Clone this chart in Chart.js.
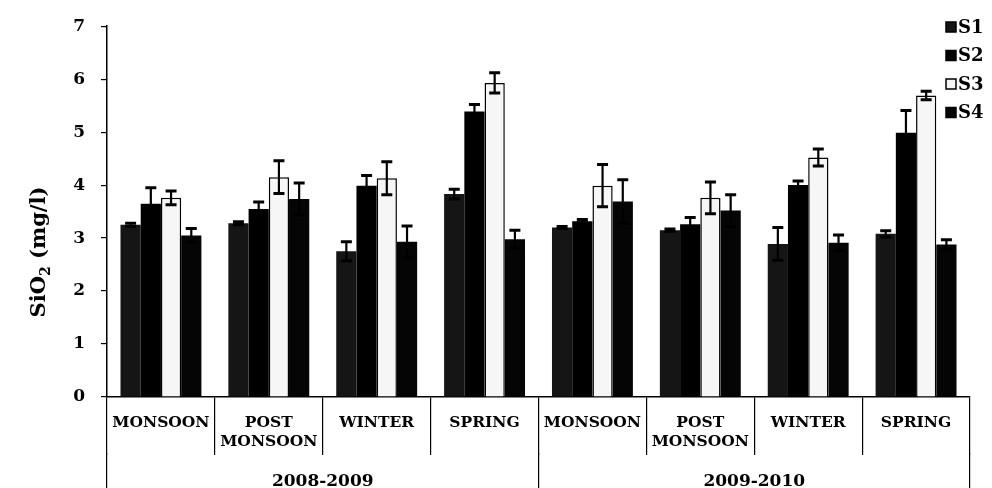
<!DOCTYPE html>
<html>
<head>
<meta charset="utf-8">
<script src="https://cdn.jsdelivr.net/npm/chart.js@4/dist/chart.umd.min.js"></script>
<style>
  html, body { margin: 0; padding: 0; background: #fff; }
  #wrap { width: 992px; height: 488px; position: relative; }
</style>
</head>
<body>
<div id="wrap"><canvas id="c" width="992" height="488"></canvas></div>
<script>
const seasons = [['MONSOON'], ['POST', 'MONSOON'], ['WINTER'], ['SPRING'], ['MONSOON'], ['POST', 'MONSOON'], ['WINTER'], ['SPRING']];
const years = ['2008-2009', '2009-2010'];
const seriesNames = ['S1', 'S2', 'S3', 'S4'];
const s1 = [3.25, 3.28, 2.75, 3.83, 3.20, 3.15, 2.89, 3.08];
const s2 = [3.65, 3.55, 3.99, 5.39, 3.32, 3.26, 4.00, 4.99];
const s3 = [3.76, 4.15, 4.13, 5.93, 3.99, 3.76, 4.52, 5.69];
const s4 = [3.05, 3.74, 2.93, 2.98, 3.69, 3.52, 2.91, 2.88];
const s1Err = [0.03, 0.03, 0.18, 0.09, 0.02, 0.02, 0.31, 0.06];
const s2Err = [0.30, 0.13, 0.19, 0.13, 0.03, 0.13, 0.08, 0.42];
const s3Err = [0.13, 0.31, 0.31, 0.19, 0.40, 0.30, 0.16, 0.08];
const s4Err = [0.13, 0.30, 0.30, 0.17, 0.41, 0.30, 0.15, 0.09];
const yTicks = [0, 1, 2, 3, 4, 5, 6, 7];
const yTitleParts = ['SiO', '2', ' (mg/l)'];

const FONT = "'DejaVu Serif', 'Liberation Serif', serif";
const fills = ['#151515', '#000000', '#f6f6f6', '#050505'];
const values = [s1, s2, s3, s4];
const errs = [s1Err, s2Err, s3Err, s4Err];

const datasets = seriesNames.map((n, i) => ({
  label: n,
  data: values[i],
  err: errs[i],
  backgroundColor: fills[i],
  borderColor: '#000',
  borderWidth: i === 2 ? 1.5 : 0,
  borderSkipped: 'bottom',
  categoryPercentage: 0.75,
  barPercentage: 1.0
}));

const errorBars = {
  id: 'errorBars',
  afterDatasetsDraw(chart) {
    const ctx = chart.ctx;
    const y = chart.scales.y;
    ctx.save();
    ctx.strokeStyle = '#000';
    chart.data.datasets.forEach((ds, di) => {
      const meta = chart.getDatasetMeta(di);
      meta.data.forEach((bar, i) => {
        const v = ds.data[i], e = ds.err[i];
        const top = y.getPixelForValue(v + e);
        const bot = y.getPixelForValue(v - e);
        const x = bar.x;
        ctx.lineWidth = 2.2;
        ctx.beginPath(); ctx.moveTo(x, top); ctx.lineTo(x, bot); ctx.stroke();
        ctx.lineWidth = 3;
        ctx.beginPath();
        ctx.moveTo(x - 5.5, top); ctx.lineTo(x + 5.5, top);
        ctx.moveTo(x - 5.5, bot); ctx.lineTo(x + 5.5, bot);
        ctx.stroke();
      });
    });
    ctx.restore();
  }
};

const sideLegend = {
  id: 'sideLegend',
  afterDraw(chart) {
    const ctx = chart.ctx;
    ctx.save();
    ctx.font = 'bold 18px ' + FONT;
    ctx.textBaseline = 'middle';
    ctx.textAlign = 'left';
    chart.data.datasets.forEach((ds, i) => {
      const cy = 27 + i * 28.5;
      ctx.fillStyle = ds.backgroundColor;
      ctx.fillRect(946, cy - 5, 10, 10);
      ctx.lineWidth = 1.5;
      ctx.strokeStyle = '#000';
      ctx.strokeRect(946, cy - 5, 10, 10);
      ctx.fillStyle = '#000';
      ctx.fillText(ds.label, 958, cy + 1);
    });
    ctx.restore();
  }
};

const yTitle = {
  id: 'yTitle',
  afterDraw(chart) {
    const ctx = chart.ctx;
    ctx.save();
    ctx.translate(40, 252);
    ctx.rotate(-Math.PI / 2);
    ctx.fillStyle = '#000';
    ctx.textBaseline = 'middle';
    ctx.textAlign = 'left';
    const big = 'bold 21px ' + FONT, small = 'bold 14px ' + FONT;
    ctx.font = big; const w0 = ctx.measureText(yTitleParts[0]).width;
    const w2 = ctx.measureText(yTitleParts[2]).width;
    ctx.font = small; const w1 = ctx.measureText(yTitleParts[1]).width;
    let x = -(w0 + w1 + w2) / 2;
    ctx.font = big; ctx.fillText(yTitleParts[0], x, 0); x += w0;
    ctx.font = small; ctx.fillText(yTitleParts[1], x, 6); x += w1;
    ctx.font = big; ctx.fillText(yTitleParts[2], x, 0);
    ctx.restore();
  }
};

new Chart(document.getElementById('c'), {
  type: 'bar',
  data: { labels: seasons, datasets },
  plugins: [errorBars, sideLegend, yTitle],
  options: {
    responsive: false,
    animation: false,
    devicePixelRatio: 1,
    layout: { padding: { top: 24, right: 22, left: 0, bottom: 0 } },
    plugins: { legend: { display: false }, tooltip: { enabled: false } },
    scales: {
      x: {
        position: 'bottom',
        offset: true,
        grid: { display: true, drawOnChartArea: false, offset: true, color: '#000', lineWidth: 1.2, tickLength: 58, tickColor: '#000' },
        border: { display: true, color: '#000', width: 1.5 },
        ticks: { color: '#000', font: { family: FONT, size: 15.5, weight: 'bold', lineHeight: 1.25 }, padding: -42, maxRotation: 0, autoSkip: false },
        afterFit(s) { s.height = 56; }
      },
      x2: {
        type: 'category',
        position: 'bottom',
        labels: years,
        offset: true,
        grid: { display: true, drawOnChartArea: false, offset: true, color: '#000', lineWidth: 1.2, tickLength: 35, tickColor: '#000' },
        border: { display: false },
        ticks: { color: '#000', font: { family: FONT, size: 17, weight: 'bold', lineHeight: 1.2 }, padding: -17, maxRotation: 0, autoSkip: false },
        afterFit(s) { s.height = 35; }
      },
      y: {
        min: 0, max: 7,
        afterBuildTicks(s) { s.ticks = yTicks.map(v => ({ value: v })); },
        grid: { display: true, drawOnChartArea: false, color: '#000', tickLength: 6, tickColor: '#000', lineWidth: 1.2 },
        border: { display: true, color: '#000', width: 1.5 },
        ticks: { color: '#000', font: { family: FONT, size: 17, weight: 'bold' }, padding: 16 },
        title: { display: false },
        afterFit(s) { s.width = 107; }
      }
    }
  }
});
</script>
</body>
</html>
